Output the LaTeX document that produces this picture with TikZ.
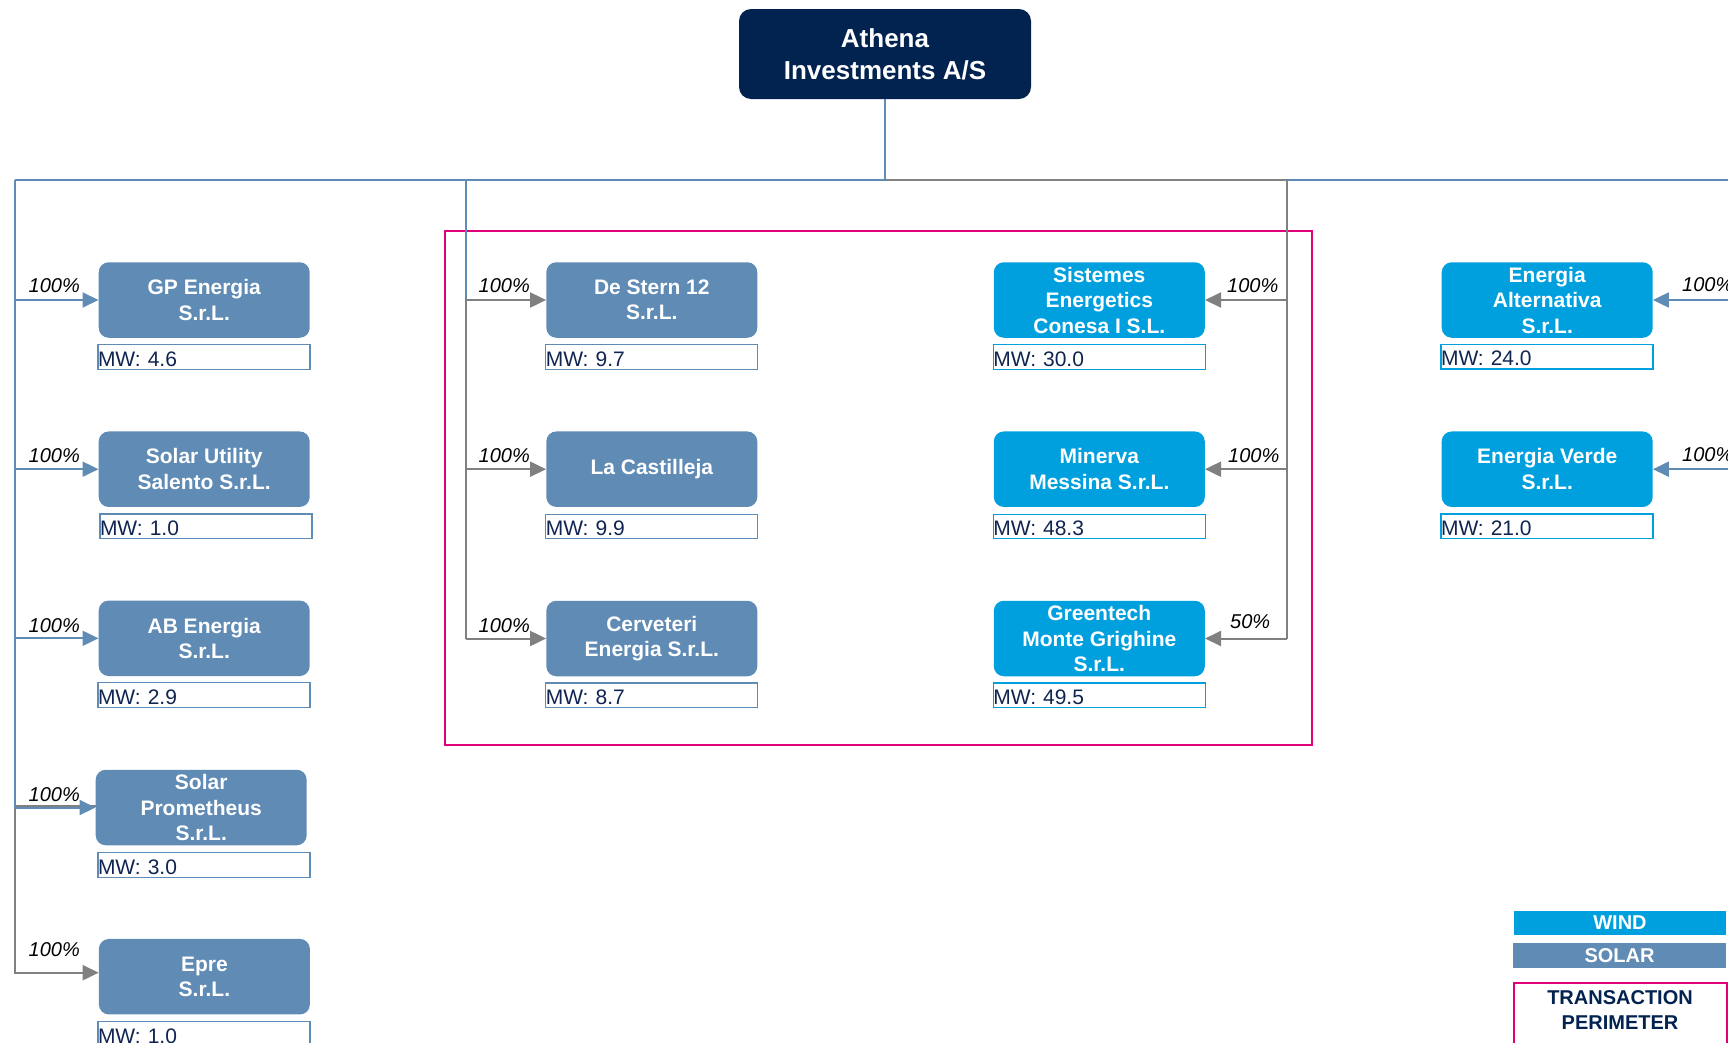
\documentclass[tikz,border=0pt]{standalone}
\usepackage{fontspec}
\setmainfont{Liberation Sans}
\usetikzlibrary{arrows.meta}
\definecolor{navy}{RGB}{2,35,80}
\definecolor{solar}{RGB}{95,139,180}
\definecolor{wind}{RGB}{0,160,223}
\definecolor{perimpink}{RGB}{225,0,122}
\definecolor{lgray}{RGB}{128,128,128}
\definecolor{mwtext}{RGB}{15,36,80}
\begin{document}
\begin{tikzpicture}[x=1pt,y=-1pt,
  ent/.style={rounded corners=10pt, minimum width=211pt, minimum height=75.5pt, inner sep=0pt, align=center, text=white, font=\fontsize{21}{25.5}\selectfont\bfseries},
  solarbox/.style={ent, fill=solar},
  windbox/.style={ent, fill=wind},
  mw/.style={line width=1.3pt, minimum height=24.5pt, inner sep=0pt, text width=212pt, align=left, text height=18pt, text depth=0pt, font=\fontsize{21}{24}\selectfont, text=mwtext},
  mwsolar/.style={mw, draw=solar},
  mwwind/.style={mw, draw=wind},
  lbl/.style={font=\fontsize{20}{24}\selectfont\itshape, inner sep=0pt},
  blueln/.style={draw=solar, line width=2pt},
  grayln/.style={draw=lgray, line width=2pt},
  arr/.style={-{Triangle[length=16pt,width=15pt]}},
  legtext/.style={font=\fontsize{20}{25}\selectfont\bfseries, inner sep=0pt, align=center}
]
\useasboundingbox (0,0) rectangle (1728,1042);
\clip (0,0) rectangle (1728,1042);

% transaction perimeter
\node[draw=perimpink, line width=2pt, minimum width=867pt, minimum height=514pt, inner sep=0pt] (perim) at (878.5,488) {};

% top
\node[rounded corners=12pt, fill=navy, minimum width=292pt, minimum height=90pt, inner sep=0pt, align=center, text=white, font=\fontsize{26}{32}\selectfont\bfseries] (athena) at (885,54) {Athena\\Investments A/S};

% left column
\node[solarbox] (gp) at (204.2,300) {GP Energia\\S.r.L.};
\node[solarbox] (su) at (204.2,469.2) {Solar Utility\\Salento S.r.L.};
\node[solarbox] (ab) at (204.2,638.3) {AB Energia\\S.r.L.};
\node[solarbox] (pr) at (201.2,807.5) {Solar\\Prometheus\\S.r.L.};
\node[solarbox] (ep) at (204.4,976.7) {Epre\\S.r.L.};
\node[mwsolar] (gpmw) at (204,357) {MW: 4.6};
\node[mwsolar] (sumw) at (206,526.3) {MW: 1.0};
\node[mwsolar] (abmw) at (204,695) {MW: 2.9};
\node[mwsolar] (prmw) at (204,865) {MW: 3.0};
\node[mwsolar] (epmw) at (204,1034) {MW: 1.0};

% middle column
\node[solarbox] (ds) at (651.8,300) {De Stern 12\\S.r.L.};
\node[solarbox] (lc) at (651.8,469.2) {La Castilleja};
\node[solarbox] (cv) at (651.8,638.5) {Cerveteri\\Energia S.r.L.};
\node[mwsolar] (dsmw) at (651.8,357) {MW: 9.7};
\node[mwsolar] (lcmw) at (651.8,526.5) {MW: 9.9};
\node[mwsolar] (cvmw) at (651.8,695.3) {MW: 8.7};

% right column inside perimeter
\node[windbox] (se) at (1099.3,300) {Sistemes\\Energetics\\Conesa I S.L.};
\node[windbox] (mi) at (1099.3,469.2) {Minerva\\Messina S.r.L.};
\node[windbox] (gt) at (1099.3,638.5) {Greentech\\Monte Grighine\\S.r.L.};
\node[mwwind] (semw) at (1099.3,357) {MW: 30.0};
\node[mwwind] (mimw) at (1099.3,526.5) {MW: 48.3};
\node[mwwind] (gtmw) at (1099.3,695.3) {MW: 49.5};

% far right column
\node[windbox] (ea) at (1547.2,300) {Energia\\Alternativa\\S.r.L.};
\node[windbox] (ev) at (1547.2,469.2) {Energia Verde\\S.r.L.};
\node[mwwind] (eamw) at (1547,356.7) {MW: 24.0};
\node[mwwind] (evmw) at (1547,526.2) {MW: 21.0};

% bus coordinates
\coordinate (busL) at (15,180);
\coordinate (busR) at (1745,180);
\coordinate (busA) at (885,180);
\coordinate (busM) at (466,180);
\coordinate (busG) at (1287,180);
\coordinate (prw) at ([yshift=1.5pt]pr.west);
\coordinate (epw) at ([yshift=4pt]ep.west);

% connectors
\draw[blueln] (athena.south) -- (busA);
\draw[blueln] (busL) -- (busR);
\draw[grayln] (busA) -- (busG);

% left column
\draw[grayln, arr] (prw) -- (busL |- prw) -- (busL |- epw) -- (epw);
\draw[blueln] (busL) -- (busL |- pr.west);
\draw[blueln, arr] (busL |- gp.west) -- (gp.west);
\draw[blueln, arr] (busL |- su.west) -- (su.west);
\draw[blueln, arr] (busL |- ab.west) -- (ab.west);
\draw[blueln, arr] (busL |- pr.west) -- (pr.west);

% middle column
\draw[blueln] (busM) -- (busM |- ds.west);
\draw[grayln] (busM |- ds.west) -- (busM |- cv.west);
\draw[grayln, arr] (busM |- ds.west) -- (ds.west);
\draw[grayln, arr] (busM |- lc.west) -- (lc.west);
\draw[grayln, arr] (busM |- cv.west) -- (cv.west);

% right column inside perimeter
\draw[grayln] (busG) -- (busG |- gt.east);
\draw[grayln, arr] (busG |- se.east) -- (se.east);
\draw[grayln, arr] (busG |- mi.east) -- (mi.east);
\draw[grayln, arr] (busG |- gt.east) -- (gt.east);

% far right column
\draw[blueln, arr] (busR |- ea.east) -- (ea.east);
\draw[blueln, arr] (busR |- ev.east) -- (ev.east);

% percentage labels
\node[lbl, anchor=base east] (p1) at (80,292.3) {100\%};
\node[lbl, anchor=base east] (p2) at (80,462.7) {100\%};
\node[lbl, anchor=base east] (p3) at (80,632.3) {100\%};
\node[lbl, anchor=base east] (p4) at (80,801.7) {100\%};
\node[lbl, anchor=base east] (p5) at (80,956.7) {100\%};
\node[lbl, anchor=base east] (p6) at (530,292.3) {100\%};
\node[lbl, anchor=base east] (p7) at (530,462.7) {100\%};
\node[lbl, anchor=base east] (p8) at (530,632.3) {100\%};
\node[lbl, anchor=base west] (p9) at (1227,292.3) {100\%};
\node[lbl, anchor=base west] (p10) at (1228,462.7) {100\%};
\node[lbl, anchor=base west] (p11) at (1230,628) {50\%};
\node[lbl, anchor=base west] (p12) at (1682,291.7) {100\%};
\node[lbl, anchor=base west] (p13) at (1682,461.7) {100\%};

% legend
\node[fill=wind, minimum width=212pt, minimum height=24pt, text=white, legtext] (lw) at (1620,923) {WIND};
\node[fill=solar, minimum width=213pt, minimum height=25pt, text=white, legtext] (ls) at (1619.5,955.8) {SOLAR};
\node[draw=perimpink, line width=2pt, minimum width=213pt, minimum height=90pt, inner sep=0pt, anchor=north] (lp) at (1620,982.3) {};
\node[legtext, text=navy] (lpt) at (1620,1009.5) {TRANSACTION\\PERIMETER};
\end{tikzpicture}
\end{document}
